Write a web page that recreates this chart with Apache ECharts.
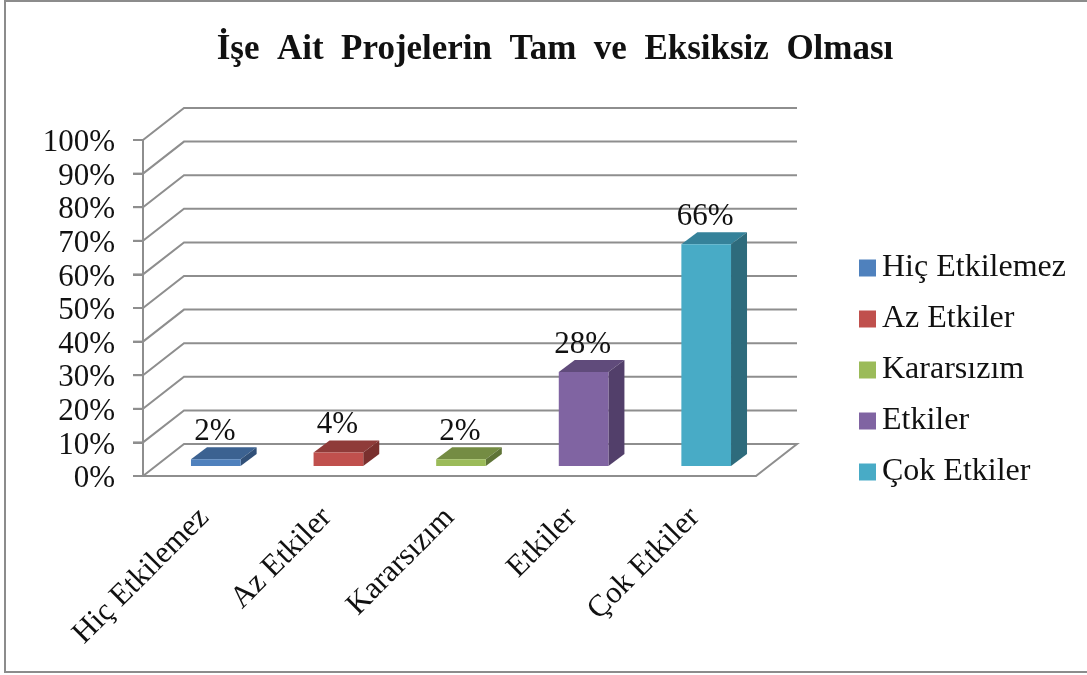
<!DOCTYPE html>
<html><head><meta charset="utf-8">
<style>html,body{margin:0;padding:0;background:#fff}#c{width:1087px;height:675px}</style>
<script src="https://cdn.jsdelivr.net/npm/echarts@6/dist/echarts.min.js"></script>
</head><body><div id="c"></div>
<script>
const titleText = 'İşe  Ait  Projelerin  Tam  ve  Eksiksiz  Olması';
const categories = ['Hiç Etkilemez', 'Az Etkiler', 'Kararsızım', 'Etkiler', 'Çok Etkiler'];
const values = [2, 4, 2, 28, 66];
const gridTicks = [0, 10, 20, 30, 40, 50, 60, 70, 80, 90, 100];
const frontColors = ['#4f81bd', '#c0504d', '#9bbb59', '#8064a2', '#48abc6'];
const topColors = ['#3c6291', '#8f3b39', '#748c43', '#604b7b', '#35829a'];
const sideColors = ['#315078', '#7a302e', '#5f7437', '#523f6a', '#2e6b7c'];

const FONT = '"Liberation Serif","Times New Roman",serif';
const GRID_COLOR = '#8e8e8e';
const TICK_LEN = 10;
const WALL_DX = 41, WALL_DY = -32;      // depth of the 3D box
const BAR_DX = 11.5, BAR_DY = -10;      // front face offset of a bar from the axis plane
const BAR_DEPTH_X = 16, BAR_DEPTH_Y = -12;

function renderWall(params, api) {
  const cs = params.coordSys;
  const v = api.value(0);
  const y = api.coord([0, v])[1];
  const x0 = cs.x, x1 = cs.x + cs.width;
  const pts = [[x0, y], [x0 + WALL_DX, y + WALL_DY], [x1 + WALL_DX, y + WALL_DY]];
  if (v === 0) pts.push([x1, y]);
  const children = [{ type: 'polyline', shape: { points: pts },
    style: { fill: null, stroke: GRID_COLOR, lineWidth: 2 } },
    { type: 'line', shape: { x1: x0 - TICK_LEN, y1: y, x2: x0, y2: y },
      style: { stroke: GRID_COLOR, lineWidth: 2 } }];
  if (v === 100) children.push({ type: 'line',
    shape: { x1: x0, y1: cs.y, x2: x0, y2: cs.y + cs.height },
    style: { stroke: GRID_COLOR, lineWidth: 2 } });
  return { type: 'group', children };
}

function renderBar(params, api) {
  const idx = api.value(0);
  const top = api.coord([idx, api.value(1)]);
  const base = api.coord([idx, 0]);
  const w = api.size([1, 0])[0] * 0.405;
  const l = top[0] + BAR_DX - w / 2, r = l + w;
  const t = top[1] + BAR_DY, b = base[1] + BAR_DY;
  const dx = BAR_DEPTH_X, dy = BAR_DEPTH_Y;
  return { type: 'group', children: [
    { type: 'polygon', shape: { points: [[l, t], [l + dx, t + dy], [r + dx, t + dy], [r, t]] },
      style: { fill: topColors[idx] } },
    { type: 'polygon', shape: { points: [[r, t], [r + dx, t + dy], [r + dx, b + dy], [r, b]] },
      style: { fill: sideColors[idx] } },
    { type: 'rect', shape: { x: l, y: t, width: w, height: b - t },
      style: { fill: frontColors[idx] } },
    { type: 'text', z2: 10, style: { x: (l + r) / 2 - 1, y: t - 12, text: api.value(1) + '%',
      fill: '#111', font: '31px ' + FONT, align: 'center', verticalAlign: 'bottom' } }
  ]};
}

const series = [{
  type: 'custom', name: 'walls', silent: true, clip: false, z: 1,
  data: gridTicks.map(v => [v]), encode: { y: 0 }, renderItem: renderWall
}].concat(categories.map((name, i) => ({
  type: 'custom', name, clip: false, z: 2,
  itemStyle: { color: frontColors[i] },
  data: [[i, values[i]]], encode: { x: 0, y: 1 }, renderItem: renderBar
})));

const chart = echarts.init(document.getElementById('c'), null, { renderer: 'canvas' });
chart.setOption({
  animation: false,
  backgroundColor: '#fff',
  title: { text: titleText, left: 550, top: 27, textAlign: 'center',
    textStyle: { fontFamily: FONT, fontWeight: 'bold', fontSize: 35, color: '#111' } },
  legend: { data: categories, orient: 'vertical', left: 854, top: 247, icon: 'rect',
    itemWidth: 17, itemHeight: 17, itemGap: 19, selectedMode: false,
    textStyle: { fontFamily: FONT, fontSize: 32, color: '#111', padding: [0, 0, 0, 1] } },
  grid: { left: 143, top: 140, width: 613, height: 336 },
  xAxis: { type: 'category', data: categories,
    axisLine: { lineStyle: { color: GRID_COLOR, width: 2 } }, axisTick: { show: false },
    axisLabel: { rotate: 45, interval: 0, margin: 37, fontFamily: FONT, fontSize: 31, color: '#111' } },
  yAxis: { type: 'value', min: 0, max: 100, interval: 10,
    axisLine: { show: true, lineStyle: { color: GRID_COLOR, width: 2 } },
    axisTick: { show: true, length: TICK_LEN, lineStyle: { color: GRID_COLOR, width: 2 } },
    splitLine: { show: false },
    axisLabel: { formatter: '{value}%', margin: 28, fontFamily: FONT, fontSize: 31, color: '#111',
      verticalAlign: 'top', lineHeight: 6 } },
  graphic: [{ type: 'rect', silent: true, z: -1,
    shape: { x: 5, y: 1, width: 1090, height: 671 },
    style: { fill: null, stroke: '#8c8c8c', lineWidth: 2 } }],
  series
});
</script></body></html>
